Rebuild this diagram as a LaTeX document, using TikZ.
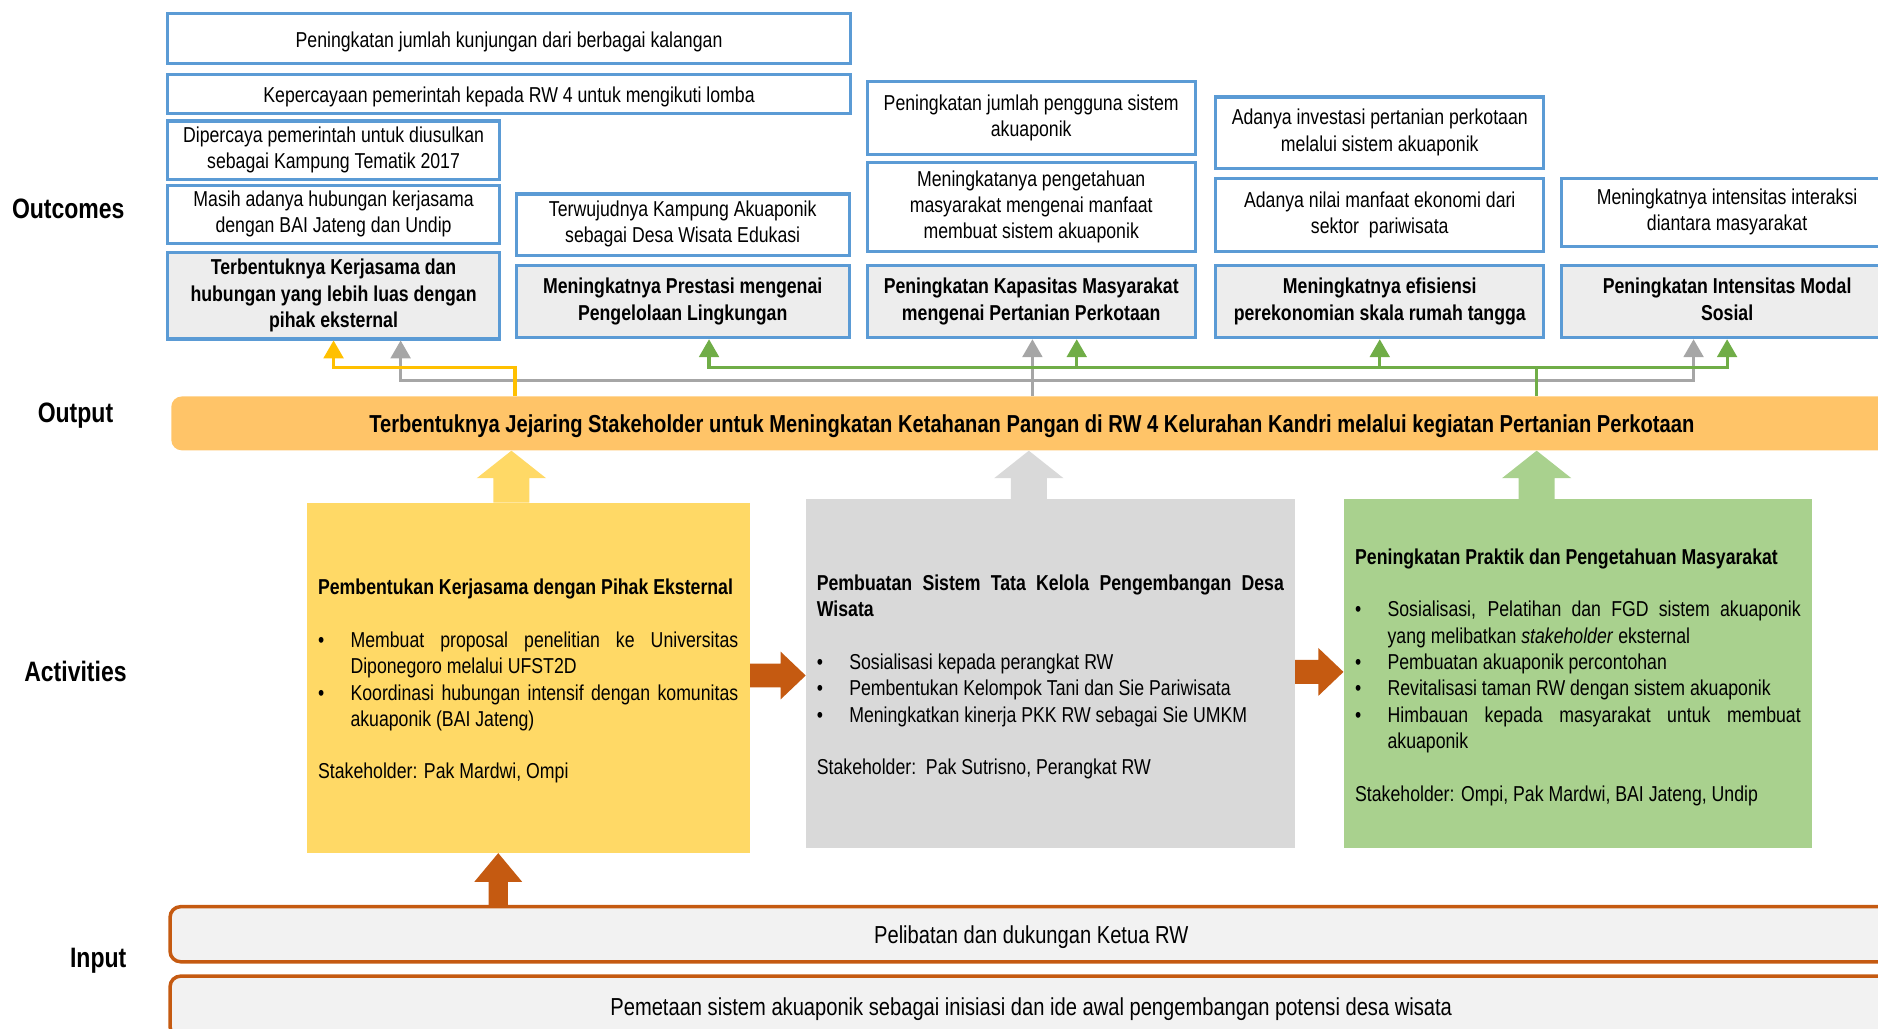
\documentclass[tikz,border=0pt]{standalone}
\usepackage{fontspec}
\setmainfont{Liberation Sans}[FakeStretch=0.82]
\usepackage{tikz}
\usetikzlibrary{arrows,calc}
\setlength{\parindent}{0pt}

\definecolor{boxblue}{RGB}{91,155,213}
\definecolor{boldgrey}{RGB}{237,237,237}
\definecolor{outorange}{RGB}{255,196,104}
\definecolor{actyellow}{RGB}{255,217,102}
\definecolor{actgrey}{RGB}{217,217,217}
\definecolor{actgreen}{RGB}{169,209,142}
\definecolor{lineyellow}{RGB}{255,192,0}
\definecolor{linegrey}{RGB}{166,166,166}
\definecolor{linegreen}{RGB}{112,173,71}
\definecolor{inorange}{RGB}{197,90,17}
\definecolor{inputfill}{RGB}{242,242,242}

\newcommand{\bul}[1]{\par\hangindent=0.65cm\hangafter=1\noindent\makebox[0.65cm][l]{\textbullet}#1}
\newcommand{\blockup}[6]{\fill[#3] ($(#1)+(-#4,0)$) -- ($(#2)+(-#4,#6)$) -- ($(#2)+(-#5,#6)$) -- (#2) -- ($(#2)+(#5,#6)$) -- ($(#2)+(#4,#6)$) -- ($(#1)+(#4,0)$) -- cycle;}
\newcommand{\blockright}[6]{\fill[#3] ($(#1)+(0,-#4)$) -- ($(#2)+(-#6,-#4)$) -- ($(#2)+(-#6,-#5)$) -- (#2) -- ($(#2)+(-#6,#5)$) -- ($(#2)+(-#6,#4)$) -- ($(#1)+(0,#4)$) -- cycle;}

\begin{document}
\begin{tikzpicture}[x=0.024cm,y=-0.024cm,>=triangle 60,
	spans/.style n args={4}{minimum width={(#3-#1)*0.024cm},minimum height={(#4-#2)*0.024cm},at={({(#1+#3)/2},{(#2+#4)/2})}},
	struts/.style={execute at begin node={\rule{0pt}{13.2pt}},execute at end node={\rule[-3pt]{0pt}{3pt}}},
	obox/.style={draw=boxblue,line width=1.8pt,fill=white,inner sep=0pt,align=center,struts,font=\fontsize{12.3}{15}\selectfont},
	obold/.style={obox,fill=boldgrey,font=\bfseries\fontsize{12.3}{15}\selectfont},
	outbar/.style={fill=outorange,rounded corners=6pt,inner sep=0pt,struts,font=\bfseries\fontsize{14}{17}\selectfont},
	actbox/.style={inner sep=0pt,align=justify,struts,font=\fontsize{12.3}{15}\selectfont},
	inbox/.style={draw=inorange,line width=2pt,fill=inputfill,rounded corners=6pt,inner sep=0pt,struts,font=\fontsize{14}{17}\selectfont},
	rowlabel/.style={font=\bfseries\fontsize{16}{19}\selectfont},
	ylwline/.style={draw=lineyellow,line width=1.8pt},
	gryline/.style={draw=linegrey,line width=1.8pt},
	grnline/.style={draw=linegreen,line width=1.8pt}]
		\useasboundingbox (0,0) rectangle (1568,859);
		\clip (0,0) rectangle (1568,859);

		\node[rowlabel] (lout) at (57,174) {Outcomes};
		\node[rowlabel] (lput) at (63,347) {Output};
		\node[rowlabel] (lact) at (63,561) {Activities};
		\node[rowlabel] (linp) at (82,802) {Input};

		\node[obox,spans={140}{11}{710}{53}] (a1) {Peningkatan jumlah kunjungan dari berbagai kalangan};
		\node[obox,spans={140}{62}{710}{95}] (a2) {Kepercayaan pemerintah kepada RW 4 untuk mengikuti lomba};
		\node[obox,spans={140}{101}{417}{150}] (a3) {Dipercaya pemerintah untuk diusulkan\\sebagai Kampung Tematik 2017};
		\node[obox,spans={140}{155}{417}{203}] (a4) {Masih adanya hubungan kerjasama\\dengan BAI Jateng dan Undip};
		\node[obold,spans={140}{211}{417}{283}] (a5) {Terbentuknya Kerjasama dan\\hubungan yang lebih luas dengan\\pihak eksternal};
		\node[obox,spans={431}{162}{709}{213}] (b1) {Terwujudnya Kampung Akuaponik\\sebagai Desa Wisata Edukasi};
		\node[obold,spans={431}{222}{709}{282}] (b2) {Meningkatnya Prestasi mengenai\\Pengelolaan Lingkungan};
		\node[obox,spans={724}{68}{998}{129}] (c1) {Peningkatan jumlah pengguna sistem\\akuaponik};
		\node[obox,spans={724}{136}{998}{210}] (c2) {Meningkatanya pengetahuan\\masyarakat mengenai manfaat\\membuat sistem akuaponik};
		\node[obold,spans={724}{222}{998}{282}] (c3) {Peningkatan Kapasitas Masyarakat\\mengenai Pertanian Perkotaan};
		\node[obox,spans={1015}{81}{1289}{141}] (d1) {Adanya investasi pertanian perkotaan\\melalui sistem akuaponik};
		\node[obox,spans={1015}{149}{1289}{210}] (d2) {Adanya nilai manfaat ekonomi dari\\sektor\ \ pariwisata};
		\node[obold,spans={1015}{222}{1289}{282}] (d3) {Meningkatnya efisiensi\\perekonomian skala rumah tangga};
		\node[obox,spans={1304}{149}{1580}{206}] (e1) {Meningkatnya intensitas interaksi\\diantara masyarakat};
		\node[obold,spans={1304}{222}{1580}{282}] (e2) {Peningkatan Intensitas Modal\\Sosial};

		\node[outbar,spans={143}{331}{1580}{376}] (outp) {Terbentuknya Jejaring Stakeholder untuk Meningkatan Ketahanan Pangan di RW 4 Kelurahan Kandri melalui kegiatan Pertanian Perkotaan};

		\node[actbox,fill=actyellow,text width=8.42cm,spans={256}{420}{626}{712}] (yact) {\textbf{Pembentukan Kerjasama dengan Pihak Eksternal}\par\vspace{15pt}
			\bul{Membuat proposal penelitian ke Universitas\linebreak Diponegoro melalui UFST2D}
			\bul{Koordinasi hubungan intensif dengan komunitas\linebreak akuaponik (BAI Jateng)}\par\vspace{15pt}
			Stakeholder: Pak Mardwi, Ompi};
		\node[actbox,fill=actgrey,text width=9.36cm,spans={673}{417}{1081}{708}] (gact) {\textbf{Pembuatan Sistem Tata Kelola Pengembangan Desa\linebreak Wisata}\par\vspace{15pt}
			\bul{Sosialisasi kepada perangkat RW}
			\bul{Pembentukan Kelompok Tani dan Sie Pariwisata}
			\bul{Meningkatkan kinerja PKK RW sebagai Sie UMKM}\par\vspace{15pt}
			Stakeholder:\ \ Pak Sutrisno, Perangkat RW};
		\node[actbox,fill=actgreen,text width=8.93cm,spans={1122}{417}{1513}{708}] (nact) {\textbf{Peningkatan Praktik dan Pengetahuan Masyarakat}\par\vspace{15pt}
			\bul{Sosialisasi, Pelatihan dan FGD sistem akuaponik\linebreak yang melibatkan \textit{stakeholder} eksternal}
			\bul{Pembuatan akuaponik percontohan}
			\bul{Revitalisasi taman RW dengan sistem akuaponik}
			\bul{Himbauan kepada masyarakat untuk membuat\linebreak akuaponik}\par\vspace{15pt}
			Stakeholder: Ompi, Pak Mardwi, BAI Jateng, Undip};

		\node[inbox,spans={142}{757}{1580}{803}] (inpa) {Pelibatan dan dukungan Ketua RW};
		\node[inbox,spans={142}{815}{1580}{866}] (inpb) {Pemetaan sistem akuaponik sebagai inisiasi dan ide awal pengembangan potensi desa wisata};

		\coordinate (yj) at (430,307);
		\coordinate (gj) at (862,318);
		\coordinate (nj) at (1283,307);
		\draw[gryline,->] (outp.north -| gj) -- (c3.south -| gj);
		\draw[gryline,->] (gj) -| ($(a5.south)+(56,0)$);
		\draw[gryline,->] (gj) -| ($(e2.south)+(-28,0)$);
		\draw[ylwline,->] (outp.north -| yj) -- (yj) -| (a5.south);
		\draw[grnline] (outp.north -| nj) -- (nj);
		\draw[grnline,->] (nj) -| ($(b2.south)+(22,0)$);
		\draw[grnline,->] (nj) -| ($(c3.south)+(38,0)$);
		\draw[grnline,->] (nj) -| (d3.south);
		\draw[grnline,->] (nj) -| (e2.south);

		\coordinate (ya) at (427,0);
		\coordinate (ga) at (859,0);
		\coordinate (na) at (1283,0);
		\coordinate (ia) at (416,0);
		\coordinate (ra) at (0,564);
		\coordinate (rb) at (0,561);
		\blockup{yact.north -| ya}{outp.south -| ya}{actyellow}{15}{29}{23}
		\blockup{gact.north -| ga}{outp.south -| ga}{actgrey}{15}{29}{23}
		\blockup{nact.north -| na}{outp.south -| na}{actgreen}{15}{29}{23}
		\blockup{inpa.north -| ia}{yact.south -| ia}{inorange}{8}{20}{24}
		\blockright{yact.east |- ra}{gact.west |- ra}{inorange}{10}{20}{21}
		\blockright{gact.east |- rb}{nact.west |- rb}{inorange}{10}{20}{21}
	\end{tikzpicture}
\end{document}
